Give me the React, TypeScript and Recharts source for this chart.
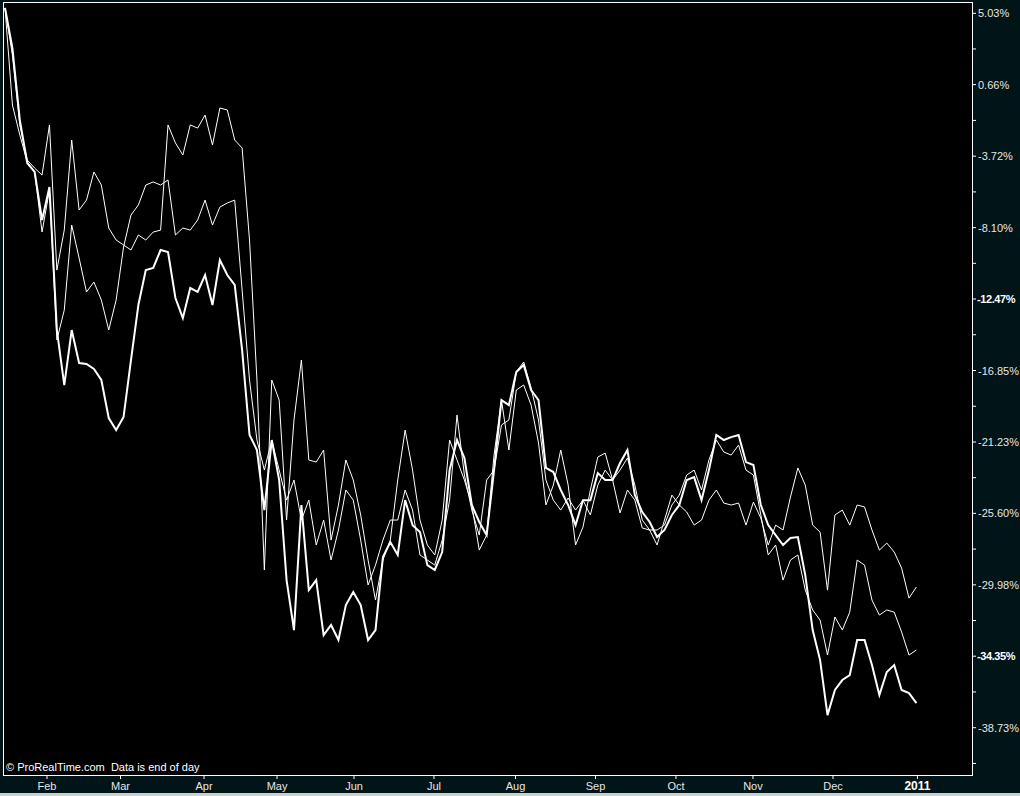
import React from 'react';
import { LineChart, Line, XAxis, YAxis } from 'recharts';

// one point every two trading days, Jan 2010 -> Dec 2010 (values in %)
const thickSeries = [
  5.36, 2.90, -1.51, -4.14, -4.69, -7.63, -5.61, -14.37, -17.74, -14.37,
  -16.39, -16.45, -16.76, -17.43, -19.76, -20.50, -19.70, -16.21, -12.84, -10.70,
  -10.57, -9.47, -9.59, -12.41, -13.64, -11.80, -12.04, -11.00, -12.84, -10.08,
  -11.00, -11.61, -15.60, -20.80, -21.72, -25.40, -21.11, -23.56, -29.69, -32.75,
  -25.09, -30.30, -29.69, -33.06, -32.44, -33.36, -31.22, -30.42, -31.22, -33.36,
  -32.75, -28.28, -27.36, -28.15, -24.79, -26.32, -26.75, -28.77, -29.07, -27.97,
  -22.95, -21.11, -22.21, -25.09, -26.13, -26.93, -22.95, -18.66, -18.97, -16.94,
  -16.51, -18.05, -18.66, -22.82, -23.07, -24.17, -25.09, -26.32, -24.79, -24.79,
  -23.13, -23.56, -23.56, -22.52, -21.72, -24.48, -25.52, -26.13, -27.05, -26.62,
  -25.70, -25.09, -23.56, -23.38, -24.79, -22.95, -20.80, -21.11, -20.93, -20.80,
  -22.46, -22.64, -25.09, -26.32, -26.93, -27.54, -27.11, -27.05, -29.38, -32.75,
  -34.59, -37.96, -36.42, -35.81, -35.51, -33.36, -33.36, -34.89, -36.73, -35.32,
  -34.89, -36.42, -36.61, -37.22,
];

const upperSeries = [
  5.36, 2.47, -1.81, -3.96, -4.45, -4.88, -1.81, -10.70, -8.25, -2.73,
  -7.02, -6.41, -4.69, -5.49, -8.12, -8.86, -9.16, -9.47, -8.55, -8.86,
  -8.37, -8.25, -1.81, -2.91, -3.65, -1.81, -2.00, -1.20, -3.04, -0.77,
  -0.89, -2.73, -3.22, -8.86, -17.43, -29.07, -17.43, -18.66, -26.01, -19.88,
  -16.21, -22.33, -22.46, -21.72, -27.24, -25.09, -22.33, -23.56, -25.70, -28.46,
  -30.91, -28.46, -27.24, -23.56, -20.50, -22.95, -26.01, -27.54, -28.15, -26.01,
  -21.11, -22.33, -23.56, -25.09, -27.85, -26.93, -22.03, -18.66, -21.72, -18.05,
  -17.74, -18.97, -21.29, -25.09, -23.87, -21.72, -23.87, -27.54, -26.44, -24.17,
  -22.15, -21.91, -23.56, -25.58, -24.17, -24.79, -26.50, -26.62, -27.54, -26.01,
  -24.48, -25.09, -25.52, -26.32, -26.01, -24.79, -24.17, -24.97, -25.09, -24.97,
  -26.32, -24.91, -25.89, -27.54, -26.32, -26.62, -24.60, -22.82, -23.87, -26.32,
  -26.75, -30.30, -25.70, -25.40, -26.32, -25.09, -25.21, -26.62, -27.85, -27.42,
  -27.97, -28.95, -30.79, -30.11,
];

const middleSeries = [
  5.36, -0.59, -2.42, -4.08, -4.69, -8.37, -5.79, -14.98, -13.15, -7.94,
  -9.96, -12.04, -11.43, -12.53, -14.37, -12.53, -9.29, -7.33, -6.71, -5.49,
  -5.30, -5.49, -5.18, -8.55, -8.12, -8.25, -7.63, -6.41, -7.94, -6.84,
  -6.59, -6.41, -11.92, -17.43, -21.11, -22.95, -21.11, -22.95, -24.79, -23.56,
  -26.01, -24.79, -27.54, -26.01, -28.46, -26.62, -24.17, -24.79, -27.24, -29.99,
  -28.77, -27.24, -26.01, -26.01, -24.17, -25.40, -28.15, -28.46, -28.77, -27.24,
  -24.79, -19.58, -23.25, -25.40, -26.93, -23.56, -22.95, -20.19, -19.88, -16.94,
  -16.33, -17.92, -19.88, -23.56, -24.79, -25.40, -24.66, -25.40, -24.79, -25.70,
  -23.87, -22.95, -23.56, -22.95, -22.21, -23.87, -26.01, -26.62, -26.62, -26.32,
  -25.09, -24.48, -23.25, -22.95, -24.17, -22.33, -21.11, -21.84, -22.03, -21.42,
  -22.95, -23.25, -25.70, -28.15, -27.54, -29.69, -28.46, -28.15, -30.30, -31.52,
  -32.14, -34.28, -31.95, -32.75, -31.65, -28.46, -28.77, -30.91, -31.83, -31.52,
  -31.65, -32.87, -34.28, -33.97,
];

// month starts, in the same 2-day index units as the series
const monthTicks = [5.67, 15.59, 26.86, 36.71, 47.1, 57.89, 68.89, 79.69, 90.55, 100.94, 111.74, 123.14];
const monthLabels = ['Feb', 'Mar', 'Apr', 'May', 'Jun', 'Jul', 'Aug', 'Sep', 'Oct', 'Nov', 'Dec', '2011'];
const boldMonthLabels = ['2011'];

const yMajorTicks = [5.03, 0.66, -3.72, -8.10, -12.47, -16.85, -21.23, -25.60, -29.98, -34.35, -38.73];
const yMinorTicks = [2.845, -1.53, -5.91, -10.285, -14.66, -19.04, -23.415, -27.79, -32.165, -36.54, -40.92];
const yBoldTicks = [-12.47, -34.35];

const chartData = thickSeries.map((v, i) => ({
  i,
  thick: v,
  upper: upperSeries[i],
  middle: middleSeries[i],
}));

const FONT = '"Liberation Sans", Arial, sans-serif';
const near = (list: number[], v: number) => list.some(m => Math.abs(m - v) < 0.001);

const YTick = (props: any) => {
  const { x, y, payload } = props;
  const v = payload.value;
  if (!near(yMajorTicks, v)) return <g />;
  const bold = near(yBoldTicks, v);
  return (
    <text x={bold ? x - 1 : x} y={y} dy={4} fill={bold ? '#ffffff' : '#e6e6e6'} fontSize={11}
      fontWeight={bold ? 'bold' : 'normal'} letterSpacing={bold ? -0.4 : 0} fontFamily={FONT} textAnchor="start">
      {v.toFixed(2)}%
    </text>
  );
};

const XTick = (props: any) => {
  const { x, y, payload } = props;
  const idx = monthTicks.findIndex(t => Math.abs(t - payload.value) < 0.001);
  const label = monthLabels[idx] ?? '';
  const bold = boldMonthLabels.includes(label);
  return (
    <text x={x} y={y} dy={9} fill={bold ? '#ffffff' : '#e6e6e6'} fontSize={bold ? 12 : 11}
      fontWeight={bold ? 'bold' : 'normal'} fontFamily={FONT} textAnchor="middle">
      {label}
    </text>
  );
};

export default function App() {
  return (
    <div style={{ position: 'absolute', left: 0, top: 0, width: 1020, height: 796, background: '#011417', overflow: 'hidden' }}>
      {/* plot background */}
      <div style={{ position: 'absolute', left: 3, top: 2, width: 970, height: 774, background: '#000' }} />
      <div style={{ position: 'absolute', left: 0, top: 0 }}>
        <LineChart width={1020} height={796} data={chartData} margin={{ top: 2, right: 0, bottom: 0, left: 4 }}>
          <XAxis dataKey="i" type="number" domain={[-0.135, 130.5]} allowDataOverflow ticks={monthTicks}
            interval={0} height={21} axisLine={false} tickLine={{ stroke: '#ffffff' }} tickSize={4} tickMargin={2}
            tick={<XTick />} />
          <YAxis orientation="right" type="number" domain={[-41.627, 5.722]} allowDataOverflow
            ticks={[...yMajorTicks, ...yMinorTicks]} interval={0} width={48} axisLine={false}
            tickLine={{ stroke: '#ffffff' }} tickSize={4} tickMargin={2} tick={<YTick />} />
          <Line type="linear" dataKey="middle" stroke="#ffffff" strokeWidth={1} dot={false} isAnimationActive={false} />
          <Line type="linear" dataKey="upper" stroke="#ffffff" strokeWidth={1} dot={false} isAnimationActive={false} />
          <Line type="linear" dataKey="thick" stroke="#ffffff" strokeWidth={2} dot={false} isAnimationActive={false} />
        </LineChart>
      </div>
      {/* plot frame */}
      <div style={{ position: 'absolute', left: 3, top: 2, width: 970, height: 774, boxSizing: 'border-box', border: '1px solid #ffffff', pointerEvents: 'none' }} />
      <div style={{ position: 'absolute', left: 6, top: 761, color: '#ffffff', fontFamily: FONT, fontSize: 11, whiteSpace: 'pre' }}>
        {'© ProRealTime.com  Data is end of day'}
      </div>
      <div style={{ position: 'absolute', left: 0, top: 793, width: 1020, height: 3, background: '#c8d0d0' }} />
    </div>
  );
}
